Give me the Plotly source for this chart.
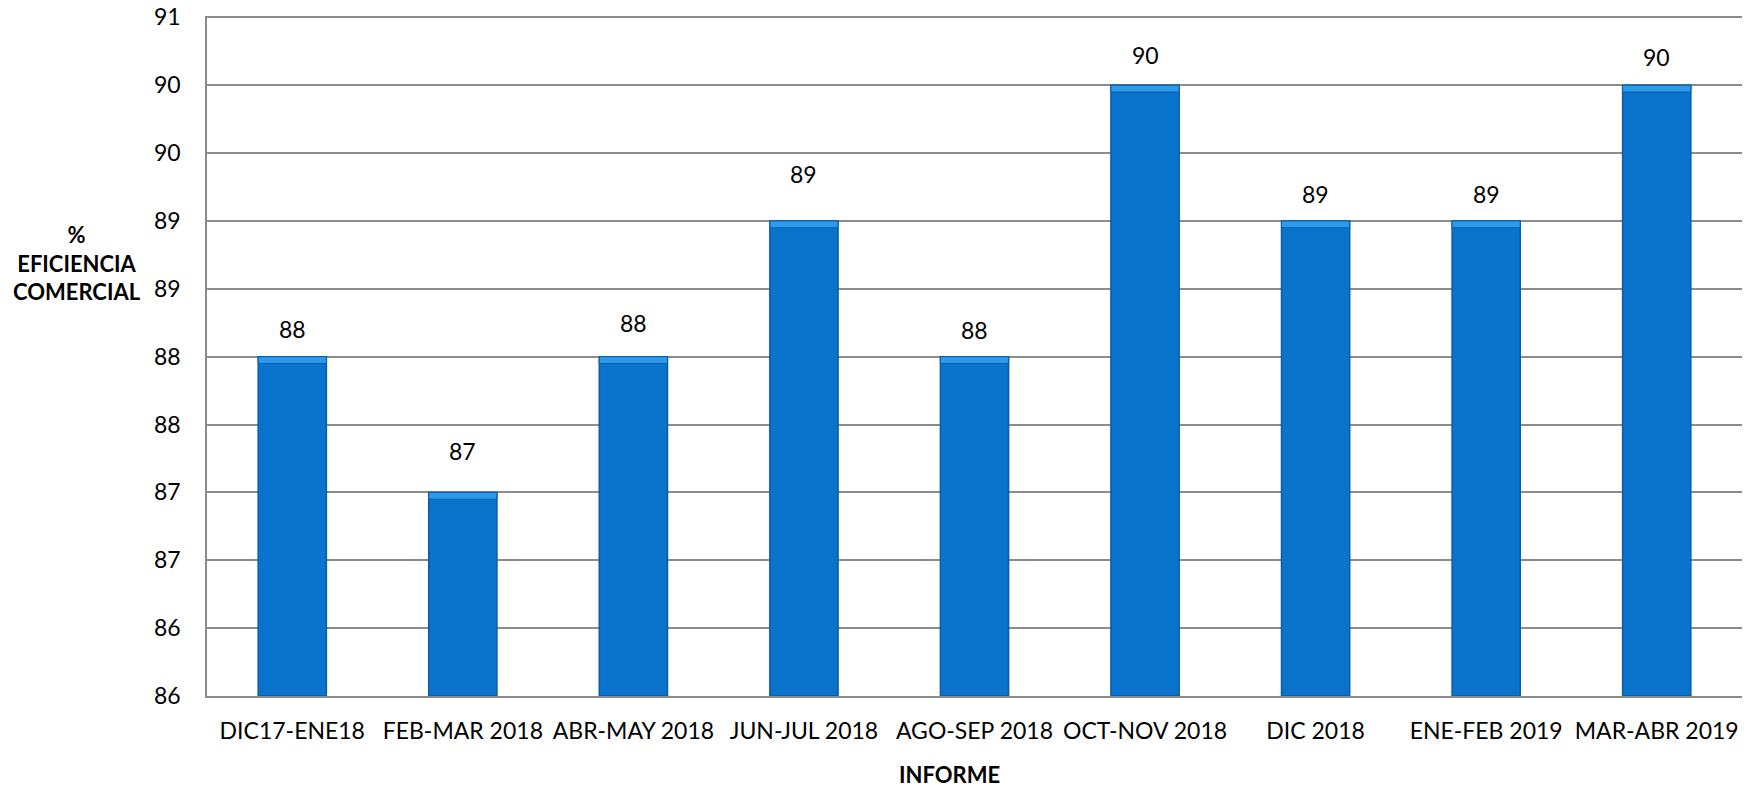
import plotly.graph_objects as go

categories = ["DIC17-ENE18", "FEB-MAR 2018", "ABR-MAY 2018", "JUN-JUL 2018", "AGO-SEP 2018",
              "OCT-NOV 2018", "DIC 2018", "ENE-FEB 2019", "MAR-ABR 2019"]
values = [88.3, 87.3, 88.3, 89.3, 88.3, 90.3, 89.3, 89.3, 90.3]
y_ticks = [85.8, 86.3, 86.8, 87.3, 87.8, 88.3, 88.8, 89.3, 89.8, 90.3, 90.8]

# styling: vertical offset (px) of each data label above its bar
label_shift = [28, 41, 34, 47, 27, 30, 27, 27, 28]
BEVEL = 0.05  # data units, height of the lighter top bevel

FONT = "Lato, Carlito, Calibri, sans-serif"

fig = go.Figure()
fig.add_trace(go.Bar(
    x=categories, y=[v - 85.8 for v in values], base=85.8,
    marker=dict(color="#0A73CB", line=dict(color="#0A5DA6", width=1.5)),
    width=0.4, hoverinfo="skip",
))
fig.add_trace(go.Bar(
    x=categories, y=[BEVEL] * len(values), base=[v - BEVEL for v in values],
    marker=dict(color="#2C9BEB", line=dict(color="#0A5DA6", width=1)),
    width=0.4, hoverinfo="skip",
))

annotations = [dict(x=c, y=v, xref="x", yref="y", text=f"{v:.0f}", showarrow=False,
                    yshift=s, yanchor="middle", font=dict(family=FONT, size=23, color="#000000"))
               for c, v, s in zip(categories, values, label_shift)]
annotations.append(dict(text="<b>%<br>EFICIENCIA<br>COMERCIAL</b>", xref="paper", yref="paper",
                        x=-0.085, y=0.637, xanchor="center", yanchor="middle", showarrow=False,
                        font=dict(size=22, family=FONT), align="center"))
annotations.append(dict(text="<b>INFORME</b>", xref="paper", yref="paper",
                        x=0.484, y=-0.115, xanchor="center", yanchor="middle", showarrow=False,
                        font=dict(size=22, family=FONT)))

fig.update_layout(
    width=1756, height=787,
    margin=dict(l=207, r=14, t=16, b=91),
    paper_bgcolor="white", plot_bgcolor="white",
    showlegend=False, barmode="overlay",
    font=dict(family=FONT, size=23, color="#000000"),
    xaxis=dict(showline=True, linecolor="#8c8c8c", linewidth=1.5, ticks="", automargin=False,
               tickfont=dict(size=23), ticklabelstandoff=14),
    yaxis=dict(range=[85.8, 90.81], tickmode="array", tickvals=y_ticks,
               ticktext=[f"{t:.0f}" for t in y_ticks], automargin=False,
               ticklabeloverflow="allow",
               showgrid=True, gridcolor="#8c8c8c", gridwidth=1.5,
               showline=True, linecolor="#8c8c8c", linewidth=1.5, ticks="",
               tickfont=dict(size=23), ticklabelstandoff=20, zeroline=False),
    annotations=annotations,
)

fig.write_html("out.html", config={"displayModeBar": False},
               post_script="document.body.style.margin='0';")
